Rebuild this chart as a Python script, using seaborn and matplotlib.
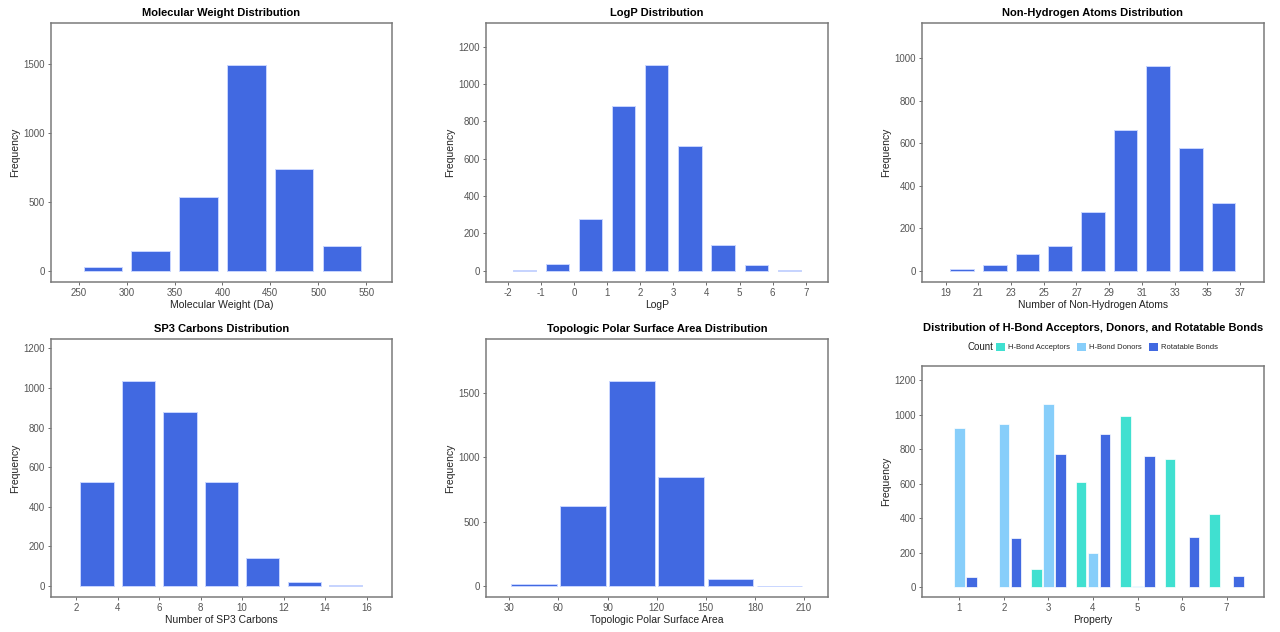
import numpy as np
import pandas as pd
import matplotlib
matplotlib.use("Agg")
import matplotlib.pyplot as plt
from matplotlib.patches import Patch
import seaborn as sns

# --- data ---
mw_edges = [250, 300, 350, 400, 450, 500, 550]
mw_counts = [25, 140, 535, 1490, 735, 182]

logp_edges = [-2, -1, 0, 1, 2, 3, 4, 5, 6, 7]
logp_counts = [5, 35, 278, 880, 1100, 670, 135, 30, 2]

nha_edges = [19, 21, 23, 25, 27, 29, 31, 33, 35, 37]
nha_counts = [8, 28, 80, 118, 278, 660, 965, 575, 320]

sp3_edges = [2, 4, 6, 8, 10, 12, 14, 16]
sp3_counts = [525, 1035, 880, 525, 140, 22, 4]

tpsa_edges = [30, 60, 90, 120, 150, 180, 210]
tpsa_counts = [15, 620, 1590, 850, 55, 2]

prop_values = [1, 2, 3, 4, 5, 6, 7]
hba_counts = [0, 4, 106, 608, 990, 744, 425]
hbd_counts = [922, 945, 1060, 199, 10, 0, 0]
rot_counts = [62, 286, 773, 889, 759, 290, 68]
count_names = ["H-Bond Acceptors", "H-Bond Donors", "Rotatable Bonds"]

BLUE = "#4169E1"
TURQ = "#40E0D0"
SKY = "#87CEFA"

sns.set_theme(style="white")
plt.rcParams['font.family'] = ['Liberation Sans', 'DejaVu Sans']
plt.rcParams['axes.unicode_minus'] = False

W, H = 1280, 632
fig = plt.figure(figsize=(W / 100, H / 100), dpi=100)


def axes_px(left, top, right, bottom):
    return fig.add_axes([left / W, 1 - bottom / H, (right - left) / W, (bottom - top) / H])


def style(ax, title, xlabel, xticks, yticks, xlim, ylim, pad=5):
    ax.set_xlim(*xlim)
    ax.set_ylim(*ylim)
    ax.set_xticks(xticks)
    ax.set_yticks(yticks)
    ax.set_title(title, fontsize=8, fontweight="bold", color="black", pad=pad)
    ax.set_xlabel(xlabel, fontsize=7.5, color="#222222", labelpad=1)
    ax.set_ylabel("Frequency", fontsize=7.5, color="#222222", labelpad=2)
    ax.tick_params(axis="both", which="both", direction="out", length=2.5, width=0.6,
                   color="#555555", labelsize=7, labelcolor="#555555", pad=2,
                   bottom=True, left=True)
    for s in ax.spines.values():
        s.set_color("#7a7a7a")
        s.set_linewidth(1.1)
    ax.grid(False)


def hist(ax, edges, counts, shrink):
    centers = [(a + b) / 2 for a, b in zip(edges[:-1], edges[1:])]
    sns.histplot(x=centers, weights=counts, bins=edges, shrink=shrink, ax=ax,
                 color=BLUE, alpha=1, edgecolor="#c9d6ff", linewidth=0.7)


ax1 = axes_px(51, 23, 392, 282)
hist(ax1, mw_edges, mw_counts, 0.8)
style(ax1, "Molecular Weight Distribution", "Molecular Weight (Da)",
      range(250, 551, 50), [0, 500, 1000, 1500], (221, 577), (-82, 1798))

ax2 = axes_px(486, 23, 828, 282)
hist(ax2, logp_edges, logp_counts, 0.7)
style(ax2, "LogP Distribution", "LogP", range(-2, 8), range(0, 1201, 200),
      (-2.66, 7.67), (-61, 1327))

ax3 = axes_px(922, 23, 1264, 282)
hist(ax3, nha_edges, nha_counts, 0.72)
style(ax3, "Non-Hydrogen Atoms Distribution", "Number of Non-Hydrogen Atoms",
      range(19, 38, 2), range(0, 1001, 200), (17.55, 38.47), (-53, 1165))

ax4 = axes_px(51, 339, 392, 597)
hist(ax4, sp3_edges, sp3_counts, 0.8)
style(ax4, "SP3 Carbons Distribution", "Number of SP3 Carbons",
      range(2, 17, 2), range(0, 1201, 200), (0.78, 17.23), (-56, 1247))

ax5 = axes_px(486, 339, 828, 597)
hist(ax5, tpsa_edges, tpsa_counts, 0.93)
style(ax5, "Topologic Polar Surface Area Distribution", "Topologic Polar Surface Area",
      range(30, 211, 30), [0, 500, 1000, 1500], (15.8, 224.6), (-85, 1917))

# grouped bars
df = pd.DataFrame({
    "Property": prop_values * 3,
    "Frequency": hba_counts + hbd_counts + rot_counts,
    "Count": [count_names[0]] * 7 + [count_names[1]] * 7 + [count_names[2]] * 7,
})
ax6 = axes_px(922, 366, 1264, 597)
palette = dict(zip(count_names, [TURQ, SKY, BLUE]))
sns.barplot(data=df, x="Property", y="Frequency", hue="Count", palette=palette,
            width=0.8, gap=0.12, ax=ax6, legend=False, saturation=1,
            edgecolor="white", linewidth=0.5)
style(ax6, "Distribution of H-Bond Acceptors, Donors, and Rotatable Bonds", "Property",
      range(0, 7), range(0, 1201, 200), (-0.84, 6.84), (-56, 1281), pad=25)
ax6.set_xticklabels([str(v) for v in prop_values])

handles = [Patch(facecolor=palette[n], edgecolor="none") for n in count_names]
leg = ax6.legend(handles, count_names, ncol=3, loc="center",
                 bbox_to_anchor=(0.54, 1.082), frameon=False, fontsize=5.5,
                 handlelength=1.2, handleheight=1.2, handletextpad=0.4,
                 columnspacing=0.9, borderaxespad=0)
fig.text(967 / W, 1 - 347 / H, "Count", fontsize=7, color="#222222", va="center", ha="left")

fig.savefig("out.png", dpi=100)
